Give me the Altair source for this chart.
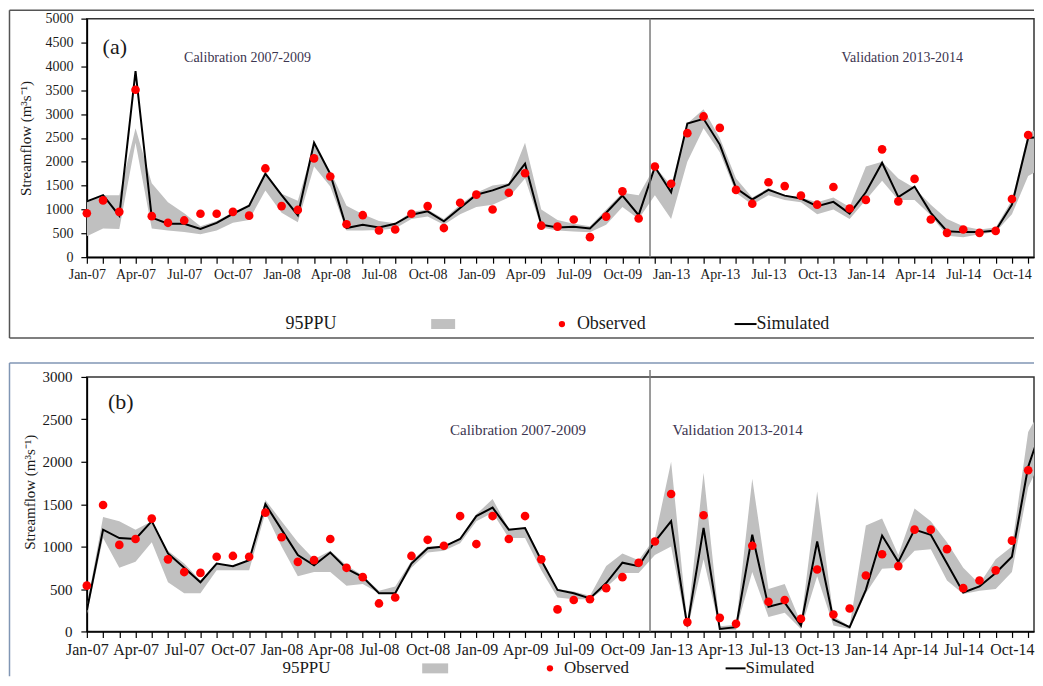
import altair as alt
import pandas as pd

# ---------------- data ----------------
month_index = list(range(60))  # Jan-07 .. Dec-09, Jan-13 .. Dec-14
tick_labels = ["Jan-07", "Apr-07", "Jul-07", "Oct-07", "Jan-08", "Apr-08", "Jul-08",
               "Oct-08", "Jan-09", "Apr-09", "Jul-09", "Oct-09", "Jan-13", "Apr-13",
               "Jul-13", "Oct-13", "Jan-14", "Apr-14", "Jul-14", "Oct-14"]

obs_a = [920, 1190, 950, 3510, 860, 720, 770, 910, 910, 950,
         870, 1860, 1070, 990, 2070, 1690, 690, 880, 560, 580,
         910, 1070, 610, 1140, 1310, 1000, 1350, 1760, 660, 640,
         790, 420, 850, 1380, 810, 1900, 1540, 2600, 2950, 2710,
         1410, 1120, 1570, 1490, 1290, 1100, 1470, 1020, 1200, 2260,
         1170, 1640, 790, 510, 580, 510, 550, 1220, 2560, None]
sim_a = [1170, 1300, 870, 3900, 830, 700, 700, 590, 720, 910,
         1080, 1750, 1300, 880, 2400, 1740, 610, 680, 620, 700,
         890, 960, 750, 1030, 1310, 1400, 1520, 1960, 680, 620,
         635, 600, 930, 1290, 880, 1890, 1360, 2800, 2900, 2360,
         1450, 1210, 1410, 1290, 1230, 1070, 1160, 915, 1360, 1980,
         1260, 1480, 930, 545, 525, 525, 560, 1100, 2500, 2520]
low_a = [440, 600, 590, 2400, 600, 560, 530, 480, 560, 720,
         780, 1400, 930, 730, 1900, 1480, 560, 560, 570, 600,
         800, 850, 680, 900, 1050, 1100, 1250, 1650, 620, 560,
         540, 520, 680, 1050, 800, 1300, 800, 2000, 2700, 2200,
         1350, 1100, 1300, 1200, 1150, 900, 1000, 800, 1200, 1600,
         1200, 1200, 880, 450, 420, 480, 530, 900, 1700, 1900]
up_a = [1180, 1300, 1300, 2700, 1550, 1150, 920, 650, 760, 940,
        1060, 1760, 1330, 1180, 2350, 1800, 1080, 900, 760, 710,
        950, 1000, 800, 1100, 1350, 1500, 1550, 2400, 1000, 780,
        700, 650, 1000, 1350, 1300, 1900, 1500, 2800, 3100, 2500,
        1650, 1250, 1450, 1300, 1250, 1150, 1250, 1050, 1900, 2000,
        1650, 1450, 1100, 800, 650, 580, 620, 1200, 2600, 2750]

obs_b = [540, 1490, 1020, 1090, 1330, 850, 700, 690, 880, 890,
         880, 1400, 1110, 820, 840, 1090, 750, 640, 330, 400,
         890, 1080, 1010, 1360, 1030, 1360, 1090, 1360, 850, 260,
         370, 380, 510, 640, 810, 1060, 1620, 110, 1370, 160,
         90, 1010, 350, 370, 150, 730, 200, 270, 660, 910,
         770, 1200, 1200, 970, 510, 600, 720, 1070, 1900, 2020]
sim_b = [250, 1200, 1100, 1090, 1300, 920, 750, 580, 800, 770,
         840, 1500, 1200, 900, 780, 930, 740, 640, 450, 450,
         800, 980, 1000, 1090, 1360, 1460, 1200, 1220, 840, 490,
         450, 390, 570, 810, 770, 1060, 1300, 60, 1220, 30,
         50, 1140, 290, 340, 70, 1060, 140, 50, 490, 1130,
         820, 1200, 1140, 800, 460, 530, 690, 880, 1940, 2500]
low_b = [200, 1100, 750, 820, 1050, 580, 450, 450, 720, 720,
         720, 1400, 1000, 650, 700, 700, 540, 560, 450, 450,
         750, 930, 950, 1040, 1300, 1400, 1100, 1100, 720, 400,
         380, 380, 520, 690, 690, 900, 1000, 20, 850, 20,
         20, 700, 170, 220, 30, 650, 70, 30, 450, 740,
         750, 950, 970, 600, 440, 480, 500, 700, 1700, 2100]
up_b = [300, 1350, 1300, 1200, 1300, 950, 800, 600, 800, 780,
        850, 1550, 1300, 1050, 850, 950, 780, 660, 480, 530,
        830, 1000, 1010, 1100, 1380, 1560, 1210, 1220, 860, 500,
        470, 420, 770, 920, 840, 1100, 2000, 100, 1870, 60,
        80, 1800, 500, 560, 100, 1650, 180, 60, 1250, 1330,
        900, 1450, 1300, 1050, 750, 560, 850, 1000, 2350, 2700]

split_index = [34.7]  # calibration / validation divider
legend_labels = ["95PPU", "Observed", "Simulated"]
period_labels = ["Calibration 2007-2009", "Validation 2013-2014"]
panel_labels = ["(a)", "(b)"]
y_title = "Streamflow (m³s⁻¹)"

# ---------------- styling ----------------
FONT = "Liberation Serif"
PLOT_W = 949
X_MAX = 58.36          # visible part of the month axis (the reference is cropped at the right)
BAND = "#c0c0c0"
ANN = "#3c3550"
TXT = "#1a1a1a"

label_expr = ("datum.value % 3 == 0 ? [" + ",".join("'%s'" % t for t in tick_labels)
              + "][datum.value / 3] : ''")
one = pd.DataFrame({"k": [0]})


def panel(obs, sim, low, up, ymax, ystep, height, c):
    df = pd.DataFrame({"i": month_index, "obs": obs, "sim": sim, "low": low, "up": up})
    sp = pd.DataFrame({"split": split_index})
    xs = alt.Scale(domain=[0, X_MAX], nice=False, zero=False)
    ys = alt.Scale(domain=[0, ymax], nice=False, zero=True)
    xaxis = alt.Axis(values=list(range(59)), labelExpr=label_expr, labelOverlap=False,
                     labelFlush=False, grid=False, tickSize=6, tickColor="black",
                     tickWidth=1.2, domainColor="black", domainWidth=1.6,
                     labelFont=FONT, labelFontSize=c["xfs"], labelColor=TXT,
                     labelPadding=4, title=None)
    yaxis = alt.Axis(values=list(range(0, ymax + 1, ystep)), format="d", grid=False,
                     tickSize=6, tickColor="black", tickWidth=1.2, domainColor="black",
                     domainWidth=1.6, labelFont=FONT, labelFontSize=c["yfs"],
                     labelColor=TXT, labelPadding=c["ypad"], title=y_title,
                     titleFont=FONT, titleFontSize=15, titleFontWeight="normal",
                     titleColor=TXT, titleAngle=270, titleX=c["tx"], titleY=c["ty"],
                     titleAlign="center", titleBaseline="middle")
    X = alt.X("i:Q", scale=xs, axis=xaxis)

    band = alt.Chart(df).mark_area(color=BAND, opacity=1, clip=True).encode(
        x=X, y=alt.Y("low:Q", scale=ys, axis=yaxis), y2="up:Q")
    line = alt.Chart(df).mark_line(color="black", strokeWidth=2, clip=True).encode(
        x=X, y=alt.Y("sim:Q", scale=ys, axis=yaxis))
    pts = alt.Chart(df).transform_filter(alt.datum.i <= X_MAX).mark_circle(
        color="#ff0000", opacity=1, size=75).encode(
        x=X, y=alt.Y("obs:Q", scale=ys, axis=yaxis))
    div = alt.Chart(sp).mark_rule(color="#7a7a7a", strokeWidth=1.5).encode(
        x=alt.X("split:Q", scale=xs, axis=xaxis), y=alt.value(c["div_top"]),
        y2=alt.value(height))

    def txt(s, x, y, size, color=TXT, align="center"):
        return alt.Chart(one).mark_text(text=s, font=FONT, fontSize=size, color=color,
                                        align=align, baseline="middle").encode(
            x=alt.value(x), y=alt.value(y))

    texts = [
        txt(c["panel"], c["pl"][0], c["pl"][1], 22),
        txt(period_labels[0], c["cal"][0], c["cal"][1], c["afs"], ANN),
        txt(period_labels[1], c["val"][0], c["val"][1], c["afs"], ANN),
        txt(legend_labels[0], c["lg_t1"], c["lg_y"], c["lfs"], align="left"),
        txt(legend_labels[1], c["lg_t2"], c["lg_y"], c["lfs"], align="left"),
        txt(legend_labels[2], c["lg_t3"], c["lg_y"], c["lfs"], align="left"),
    ]
    lg_rect = alt.Chart(one).mark_rect(color=BAND).encode(
        x=alt.value(c["lg_r"][0]), x2=alt.value(c["lg_r"][1]),
        y=alt.value(c["lg_y"] - 5), y2=alt.value(c["lg_y"] + 5))
    lg_dot = alt.Chart(one).mark_circle(color="#ff0000", opacity=1, size=40).encode(
        x=alt.value(c["lg_d"]), y=alt.value(c["lg_y"]))
    lg_line = alt.Chart(one).mark_rule(color="black", strokeWidth=2).encode(
        x=alt.value(c["lg_l"][0]), x2=alt.value(c["lg_l"][1]), y=alt.value(c["lg_y"]))

    fl, ft, fb = c["frame"]
    fc = c["fcol"]
    f_top = alt.Chart(one).mark_rule(color=fc, strokeWidth=1.5).encode(
        x=alt.value(fl), x2=alt.value(PLOT_W), y=alt.value(ft))
    f_left = alt.Chart(one).mark_rule(color=fc, strokeWidth=1.5).encode(
        x=alt.value(fl), y=alt.value(ft), y2=alt.value(fb))
    layers = [band, line, pts, div] + texts + [lg_rect, lg_dot, lg_line, f_top, f_left]
    if c["fbot"]:
        layers.append(alt.Chart(one).mark_rule(color=fc, strokeWidth=1.5).encode(
            x=alt.value(fl), x2=alt.value(PLOT_W), y=alt.value(fb)))
    return alt.layer(*layers).properties(width=PLOT_W, height=height)


cfg_a = dict(xfs=14, yfs=14, ypad=8, tx=-61, ty=119.5, div_top=0, panel=panel_labels[0],
             pl=(28, 28), cal=(161, 39), val=(817, 39), afs=14, lfs=18,
             lg_y=306, lg_t1=199, lg_t2=491, lg_t3=671, lg_r=(345, 369), lg_d=476,
             lg_l=(649, 671), frame=(-77.5, -8.5, 320), fcol="#555555", fbot=True)
cfg_b = dict(xfs=16, yfs=15, ypad=9, tx=-57, ty=115, div_top=-7, panel=panel_labels[1],
             pl=(34, 25), cal=(432, 53), val=(652, 53), afs=15, lfs=17,
             lg_y=292, lg_t1=196, lg_t2=478, lg_t3=660, lg_r=(336, 362), lg_d=464,
             lg_l=(640, 660), frame=(-77.5, -14, 300), fcol="#8096b4", fbot=False)

chart_a = panel(obs_a, sim_a, low_a, up_a, 5000, 500, 239, cfg_a)
chart_b = panel(obs_b, sim_b, low_b, up_b, 3000, 500, 255, cfg_b)

chart = alt.vconcat(chart_a, chart_b, spacing=21).properties(
    padding={"left": 0, "top": 0, "right": -1, "bottom": 0}
).configure(background="white", font=FONT).configure_axis(
    labelFont=FONT, titleFont=FONT
).configure_text(font=FONT).configure_view(stroke="#333333", strokeWidth=1.5)

chart.save("out.html", embed_options={"renderer": "svg", "actions": False})
